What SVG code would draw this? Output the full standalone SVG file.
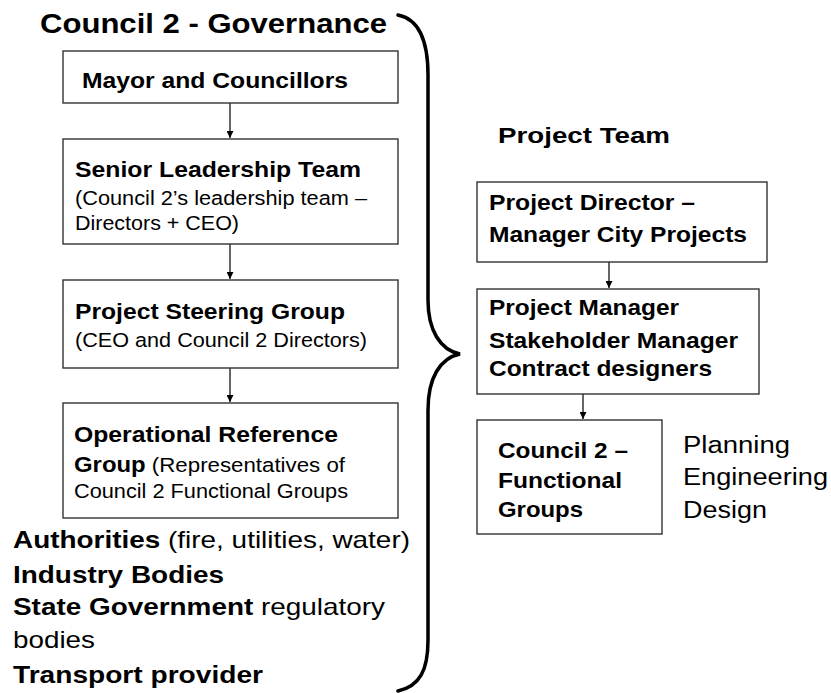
<svg xmlns="http://www.w3.org/2000/svg" width="831" height="693" viewBox="0 0 831 693">
<defs>
<style>
.box{fill:#fff;stroke:#333;stroke-width:1.4}
.t{font-family:"Liberation Sans",Arial,sans-serif;fill:#000}
.b{font-weight:bold}
.conn{stroke:#000;stroke-width:1.2;fill:none}
.brace{stroke:#000;stroke-width:3.5;fill:none;stroke-linecap:round}
</style>
<marker id="ah" viewBox="0 0 10 10" refX="10" refY="5" markerWidth="7" markerHeight="7" markerUnits="userSpaceOnUse" orient="auto">
<path d="M0,0 L10,5 L0,10 z" fill="#000"/>
</marker>
</defs>
<rect width="831" height="693" fill="#fff"/>
<text class="t b" x="40" y="33" font-size="28" textLength="347" lengthAdjust="spacingAndGlyphs">Council 2 - Governance</text>
<g id="connectors">
<line class="conn" x1="230" y1="103" x2="230" y2="138" marker-end="url(#ah)"/>
<line class="conn" x1="230" y1="244" x2="230" y2="279" marker-end="url(#ah)"/>
<line class="conn" x1="230" y1="368" x2="230" y2="402" marker-end="url(#ah)"/>
<line class="conn" x1="609" y1="262" x2="609" y2="288" marker-end="url(#ah)"/>
<line class="conn" x1="583" y1="394" x2="583" y2="419" marker-end="url(#ah)"/>
</g>
<g id="n-mayor">
<rect class="box" x="63" y="51" width="335" height="52"/>
<text class="t b" x="82" y="88" font-size="22" textLength="266" lengthAdjust="spacingAndGlyphs">Mayor and Councillors</text>
</g>
<g id="n-slt">
<rect class="box" x="63" y="139" width="335" height="105"/>
<text class="t b" x="75" y="177" font-size="22" textLength="286" lengthAdjust="spacingAndGlyphs">Senior Leadership Team</text>
<text class="t" x="75" y="205" font-size="20.5" textLength="292" lengthAdjust="spacingAndGlyphs">(Council 2’s leadership team –</text>
<text class="t" x="75" y="230" font-size="20.5" textLength="164" lengthAdjust="spacingAndGlyphs">Directors + CEO)</text>
</g>
<g id="n-psg">
<rect class="box" x="63" y="280" width="335" height="88"/>
<text class="t b" x="75" y="319" font-size="22" textLength="270" lengthAdjust="spacingAndGlyphs">Project Steering Group</text>
<text class="t" x="75" y="347" font-size="20.5" textLength="292" lengthAdjust="spacingAndGlyphs">(CEO and Council 2 Directors)</text>
</g>
<g id="n-orf">
<rect class="box" x="63" y="403" width="335" height="115"/>
<text class="t b" x="74" y="442" font-size="22" textLength="264" lengthAdjust="spacingAndGlyphs">Operational Reference</text>
<text class="t" x="74" y="472" font-size="20.5" textLength="271" lengthAdjust="spacingAndGlyphs"><tspan font-weight="bold" font-size="22">Group</tspan> (Representatives of</text>
<text class="t" x="74" y="498" font-size="20.5" textLength="274" lengthAdjust="spacingAndGlyphs">Council 2 Functional Groups</text>
</g>
<g id="n-stakeholders">
<text class="t" x="13" y="548" font-size="24" textLength="397" lengthAdjust="spacingAndGlyphs"><tspan font-weight="bold">Authorities</tspan> (fire, utilities, water)</text>
<text class="t b" x="13" y="583" font-size="24" textLength="211" lengthAdjust="spacingAndGlyphs">Industry Bodies</text>
<text class="t" x="13" y="615" font-size="24" textLength="372" lengthAdjust="spacingAndGlyphs"><tspan font-weight="bold">State Government</tspan> regulatory</text>
<text class="t" x="13" y="648" font-size="24" textLength="82" lengthAdjust="spacingAndGlyphs">bodies</text>
<text class="t b" x="13" y="683" font-size="24" textLength="250" lengthAdjust="spacingAndGlyphs">Transport provider</text>
</g>
<g id="brace">
<path class="brace" d="M398,15 C418,19 428,40 428,75 L428,300 C428,330 440,350 460,354 C440,358 428,378 428,410 L428,640 C428,670 420,686 398,691"/>
</g>
<text class="t b" x="498" y="143" font-size="22" textLength="172" lengthAdjust="spacingAndGlyphs">Project Team</text>
<g id="n-director">
<rect class="box" x="477" y="182" width="290" height="80"/>
<text class="t b" x="489" y="210" font-size="22" textLength="206" lengthAdjust="spacingAndGlyphs">Project Director –</text>
<text class="t b" x="489" y="242" font-size="22" textLength="258" lengthAdjust="spacingAndGlyphs">Manager City Projects</text>
</g>
<g id="n-manager">
<rect class="box" x="477" y="289" width="282" height="105"/>
<text class="t b" x="489" y="315" font-size="22" textLength="190" lengthAdjust="spacingAndGlyphs">Project Manager</text>
<text class="t b" x="489" y="348" font-size="22" textLength="249" lengthAdjust="spacingAndGlyphs">Stakeholder Manager</text>
<text class="t b" x="489" y="376" font-size="22" textLength="223" lengthAdjust="spacingAndGlyphs">Contract designers</text>
</g>
<g id="n-functional">
<rect class="box" x="477" y="420" width="185" height="114"/>
<text class="t b" x="498" y="458" font-size="22" textLength="130" lengthAdjust="spacingAndGlyphs">Council 2 –</text>
<text class="t b" x="498" y="488" font-size="22" textLength="124" lengthAdjust="spacingAndGlyphs">Functional</text>
<text class="t b" x="498" y="517" font-size="22" textLength="85" lengthAdjust="spacingAndGlyphs">Groups</text>
</g>
<g id="n-areas">
<text class="t" x="683" y="453" font-size="23" textLength="107" lengthAdjust="spacingAndGlyphs">Planning</text>
<text class="t" x="683" y="485" font-size="23" textLength="145" lengthAdjust="spacingAndGlyphs">Engineering</text>
<text class="t" x="683" y="518" font-size="23" textLength="84" lengthAdjust="spacingAndGlyphs">Design</text>
</g>
</svg>
